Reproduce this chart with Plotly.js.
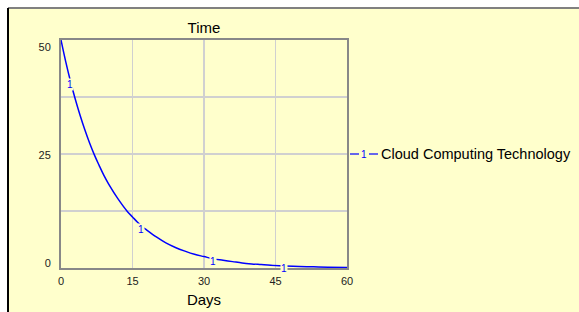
<!DOCTYPE html>
<html><head><meta charset="utf-8">
<script src="https://cdn.plot.ly/plotly-3.0.1.min.js"></script>
<style>html,body{margin:0;padding:0;background:#fff;}#chart{width:579px;height:312px;}</style>
</head><body><div id="chart"></div>
<script>
// Data
const days = [0,1,2,3,4,5,6,7,8,9,10,12,14,15,16,17,18,20,22,24,26,28,30,32,34,36,38,40,42,44,47,50,53,56,60];
const cloudTech = [50,45.2,40.9,37.0,33.5,30.3,27.4,24.8,22.5,20.3,18.4,15.1,12.3,11.2,10.1,9.1,8.3,6.8,5.5,4.5,3.7,3.0,2.5,2.0,1.7,1.4,1.1,0.9,0.75,0.6,0.45,0.33,0.25,0.18,0.12];
const seriesName = "Cloud Computing Technology";
const seriesNumber = "1";
const labelIdx = [2, 15, 23, 30]; // points where the curve number "1" is printed
const xTicks = [0,15,30,45,60];
const yTickText = ["0","25","50"];
const yTickVals = [1.1,24.8,48.5];
const yGrid = [12.5,25,37.5];

const bg = "#ffffcc";
const FONT = "Arial, Liberation Sans, sans-serif";
const trace = {
  x: days, y: cloudTech, type: "scatter", mode: "lines",
  line: {color: "#0000ff", width: 1.5, shape: "spline"},
  name: seriesName, showlegend: false, hoverinfo: "skip"
};

const annotations = labelIdx.map(i => ({
  x: days[i], y: cloudTech[i], xref: "x", yref: "y", text: seriesNumber,
  showarrow: false, bgcolor: bg, borderpad: 0, yshift: -3, xshift: -1,
  font: {family: FONT, size: 10, color: "#0000ff"}
}));
// legend-like key on the right
annotations.push({
  xref: "paper", yref: "paper", x: (364 - 61) / 286, y: 0.5, xanchor: "center", yanchor: "middle",
  text: seriesNumber, showarrow: false, borderpad: 0,
  font: {family: FONT, size: 10, color: "#0000ff"}
});
annotations.push({
  xref: "paper", yref: "paper", x: (379 - 61) / 286, y: 0.5, xanchor: "left", yanchor: "middle",
  text: seriesName, showarrow: false,
  font: {family: FONT, size: 14.5, color: "#000"}
});

const shapes = [
  {type: "rect", xref: "paper", yref: "paper", x0: -0.1853, x1: 1.83, y0: -0.22, y1: 1.1404,
   fillcolor: bg, line: {width: 0}, layer: "below"},
  {type: "line", xref: "paper", yref: "paper", x0: -0.1853, x1: 1.83, y0: 1.1404, y1: 1.1404,
   line: {color: "#808080", width: 2}},
  {type: "line", xref: "paper", yref: "paper", x0: -0.1853, x1: -0.1853, y0: -0.22, y1: 1.1404,
   line: {color: "#000000", width: 2}},
  {type: "line", xref: "paper", yref: "paper", x0: (350 - 61) / 286, x1: (359 - 61) / 286, y0: 0.5, y1: 0.5,
   line: {color: "#0000ff", width: 1.2}},
  {type: "line", xref: "paper", yref: "paper", x0: (369 - 61) / 286, x1: (378 - 61) / 286, y0: 0.5, y1: 0.5,
   line: {color: "#0000ff", width: 1.2}}
];

const layout = {
  width: 579, height: 312,
  margin: {l: 61, r: 232, t: 40, b: 44},
  paper_bgcolor: "#ffffff", plot_bgcolor: bg,
  font: {family: FONT, size: 11, color: "#222"},
  title: {text: "Time", font: {size: 15, color: "#000"}, x: 0.5, xref: "paper", xanchor: "center",
          y: 1, yref: "paper", yanchor: "bottom", pad: {b: 7}},
  xaxis: {range: [0, 60], tickvals: xTicks, ticktext: xTicks.map(String), showgrid: true,
          gridcolor: "#d0d0d0", gridwidth: 1.5, zeroline: false, showline: true, mirror: true,
          linecolor: "#888888", linewidth: 2, ticks: "", ticklabelstandoff: 2,
          title: {text: "Days", font: {size: 15, color: "#000"}, standoff: 8}},
  yaxis: {range: [0, 50], tickvals: yTickVals, ticktext: yTickText, showgrid: false,
          zeroline: false, showline: true, mirror: true, linecolor: "#888888", linewidth: 2,
          ticks: "", ticklabelstandoff: 6,
          minor: {tickvals: yGrid, showgrid: true, gridcolor: "#d0d0d0", gridwidth: 1.5, ticks: ""}},
  annotations: annotations, shapes: shapes, showlegend: false
};
Plotly.newPlot("chart", [trace], layout, {staticPlot: true, displayModeBar: false});
</script></body></html>
